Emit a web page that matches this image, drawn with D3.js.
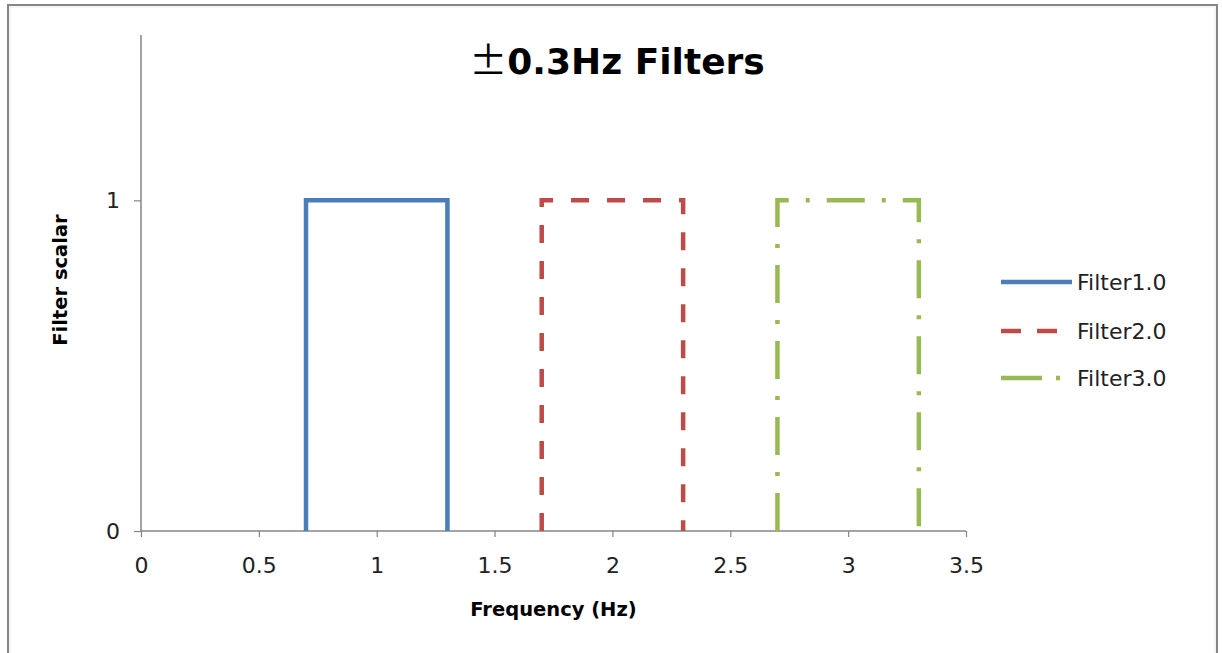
<!DOCTYPE html>
<html>
<head>
<meta charset="utf-8">
<script src="https://cdn.jsdelivr.net/npm/d3@7"></script>
<style>
  html, body { margin: 0; padding: 0; background: #fff; }
  svg { display: block; }
</style>
</head>
<body>
<script>
// ---- data ----
const seriesNames = ["Filter1.0", "Filter2.0", "Filter3.0"];
const filter1X = [0.7, 0.7, 1.3, 1.3];
const filter1Y = [0, 1, 1, 0];
const filter2X = [1.7, 1.7, 2.3, 2.3];
const filter2Y = [0, 1, 1, 0];
const filter3X = [2.7, 2.7, 3.3, 3.3];
const filter3Y = [0, 1, 1, 0];
const xTicks = [0, 0.5, 1, 1.5, 2, 2.5, 3, 3.5];
const yTicks = [0, 1];
const xDomain = [0, 3.5];
const yDomain = [0, 1.5];
const titleSymbol = "±";
const titleText = "0.3Hz Filters";
const xTitle = "Frequency (Hz)";
const yTitle = "Filter scalar";

// ---- styles ----
const colors = ["#4A7EBB", "#BE4B48", "#98B954"];
const dashes = [null, "18,18", "38,17,4,17"];
const legendDashes = [null, "20,16", "41,14,4,14"];

const W = 1222, H = 653;
const plot = { left: 141, right: 966, top: 35, bottom: 531 };

const svg = d3.select("body").append("svg").attr("width", W).attr("height", H);

// outer frame
svg.append("rect").attr("x", 8).attr("y", 5).attr("width", 1209).attr("height", 660)
  .attr("fill", "#fff").attr("stroke", "#868686").attr("stroke-width", 2);
svg.append("rect").attr("x", 10).attr("y", 7).attr("width", 1205).attr("height", 660)
  .attr("fill", "none").attr("stroke", "#ececec").attr("stroke-width", 1);

const x = d3.scaleLinear().domain(xDomain).range([plot.left, plot.right]);
const y = d3.scaleLinear().domain(yDomain).range([plot.bottom, plot.top]);

const font = "'DejaVu Sans', sans-serif";

// title
const title = svg.append("text").attr("x", 617).attr("y", 74).attr("text-anchor", "middle")
  .attr("font-family", font).attr("font-weight", "bold").attr("font-size", 36).attr("fill", "#000");
title.append("tspan").attr("font-family", "'Noto Sans CJK JP', sans-serif").attr("font-weight", "normal")
  .attr("font-size", 38).text(titleSymbol);
title.append("tspan").text(titleText);

// y axis
const yAxis = d3.axisLeft(y).tickValues(yTicks).tickFormat(d3.format("d")).tickSize(7).tickPadding(14);
const gy = svg.append("g").attr("transform", `translate(${plot.left},0)`).call(yAxis);
gy.select(".domain").attr("stroke", "#868686").attr("stroke-width", 1.5)
  .attr("d", `M0,${plot.top}V${plot.bottom}`);
gy.selectAll(".tick line").attr("stroke", "#868686").attr("stroke-width", 1.2);
gy.selectAll(".tick text").attr("font-family", font).attr("font-size", 22).attr("fill", "#222");

// x axis
const xAxis = d3.axisBottom(x).tickValues(xTicks).tickFormat(d => String(d)).tickSize(6).tickPadding(20);
const gx = svg.append("g").attr("transform", `translate(0,${plot.bottom})`).call(xAxis);
gx.select(".domain").attr("stroke", "#868686").attr("stroke-width", 1.5)
  .attr("d", `M${plot.left},0H${plot.right}`);
gx.selectAll(".tick line").attr("stroke", "#868686").attr("stroke-width", 1.2);
gx.selectAll(".tick text").attr("font-family", font).attr("font-size", 22).attr("fill", "#222");

// axis titles
svg.append("text").attr("x", (plot.left + plot.right) / 2).attr("y", 616).attr("text-anchor", "middle")
  .attr("font-family", font).attr("font-weight", "bold").attr("font-size", 19.5).attr("fill", "#000").text(xTitle);
svg.append("text").attr("transform", `translate(67,280) rotate(-90)`)
  .attr("text-anchor", "middle").attr("font-family", font).attr("font-weight", "bold")
  .attr("font-size", 19.5).attr("fill", "#000").text(yTitle);

// series
const seriesX = [filter1X, filter2X, filter3X];
const seriesY = [filter1Y, filter2Y, filter3Y];
const line = d3.line().x(d => x(d[0])).y(d => y(d[1]));
seriesX.forEach((xs, i) => {
  const pts = xs.map((v, j) => [v, seriesY[i][j]]);
  const p = svg.append("path").datum(pts).attr("d", line).attr("fill", "none")
    .attr("stroke", colors[i]).attr("stroke-width", 4.5).attr("stroke-linejoin", "miter");
  if (dashes[i]) p.attr("stroke-dasharray", dashes[i]);
});

// legend
const legY = [282, 331, 378];
seriesNames.forEach((name, i) => {
  const g = svg.append("g");
  const l = g.append("line").attr("x1", 1001).attr("x2", 1072).attr("y1", legY[i]).attr("y2", legY[i])
    .attr("stroke", colors[i]).attr("stroke-width", 4.5);
  if (legendDashes[i]) l.attr("stroke-dasharray", legendDashes[i]);
  g.append("text").attr("x", 1077).attr("y", legY[i] + 8).attr("font-family", font)
    .attr("font-size", 22).attr("fill", "#222").text(name);
});
</script>
</body>
</html>
